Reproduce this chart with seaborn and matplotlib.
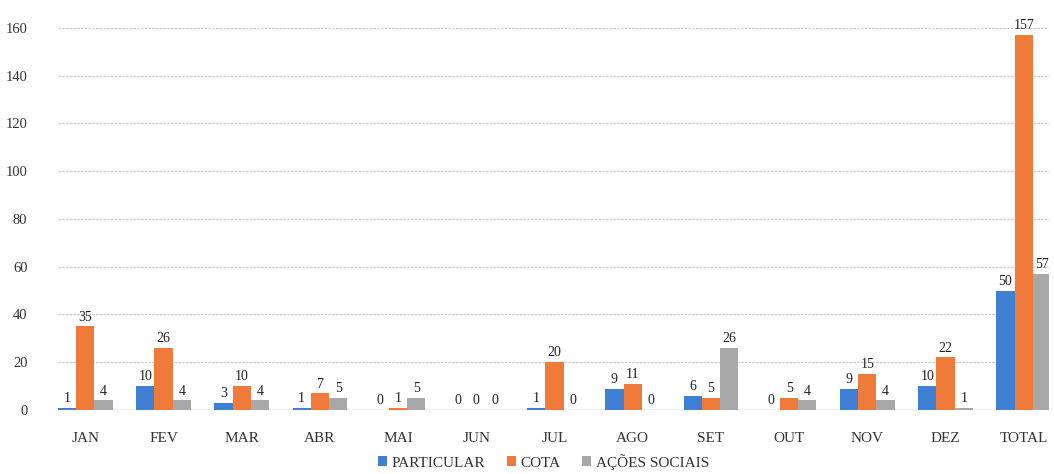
import pandas as pd
import matplotlib
matplotlib.use("Agg")
import matplotlib.pyplot as plt
import seaborn as sns

# --- Data ---
meses = ["JAN", "FEV", "MAR", "ABR", "MAI", "JUN", "JUL", "AGO", "SET", "OUT", "NOV", "DEZ", "TOTAL"]
particular = [1, 10, 3, 1, 0, 0, 1, 9, 6, 0, 9, 10, 50]
cota = [35, 26, 10, 7, 1, 0, 20, 11, 5, 5, 15, 22, 157]
acoes_sociais = [4, 4, 4, 5, 5, 0, 0, 0, 26, 4, 4, 1, 57]
series = ["PARTICULAR", "COTA", "AÇÕES SOCIAIS"]
cores = ["#3f7fd4", "#f07a3a", "#a8a8a8"]

df = pd.DataFrame({"mes": meses, series[0]: particular, series[1]: cota, series[2]: acoes_sociais})
long_df = df.melt(id_vars="mes", var_name="tipo", value_name="valor")

# --- Style ---
sns.set_theme(style="white")
plt.rcParams["font.family"] = ["Liberation Serif", "DejaVu Serif"]

fig = plt.figure(figsize=(10.54, 4.74), dpi=100)
ax = fig.add_axes([0.055, 0.135, 0.94, 0.806])

sns.barplot(data=long_df, x="mes", y="valor", hue="tipo", hue_order=series,
            palette=cores, width=0.7, gap=0, saturation=1, ax=ax,
            edgecolor="none", linewidth=0)

for cont in ax.containers:
    ax.bar_label(cont, fmt="%d", padding=2, fontsize=10, color="#222222")

ax.set_ylim(0, 160)
ax.set_xlim(-0.35, 12.32)
ax.set_yticks(range(0, 161, 20))
ax.yaxis.grid(True, color="#c8c8c8", linestyle=(0, (2, 1)), linewidth=0.9)
ax.set_axisbelow(True)
for s in ax.spines.values():
    s.set_visible(False)
ax.axhline(0, color="#bdbdbd", linewidth=1, zorder=0)

ax.set_xlabel("")
ax.set_ylabel("")
ax.tick_params(axis="y", labelsize=10.5, colors="#333333", pad=22, length=0)
ax.tick_params(axis="x", labelsize=11, colors="#333333", pad=16, length=0)

leg = ax.legend(loc="center", bbox_to_anchor=(0.49, -0.135), ncol=3, frameon=False,
                fontsize=11, handlelength=0.6, handleheight=0.6, handletextpad=0.3,
                columnspacing=1.4, borderpad=0)
for t in leg.get_texts():
    t.set_color("#333333")

fig.savefig("out.png", dpi=100)
